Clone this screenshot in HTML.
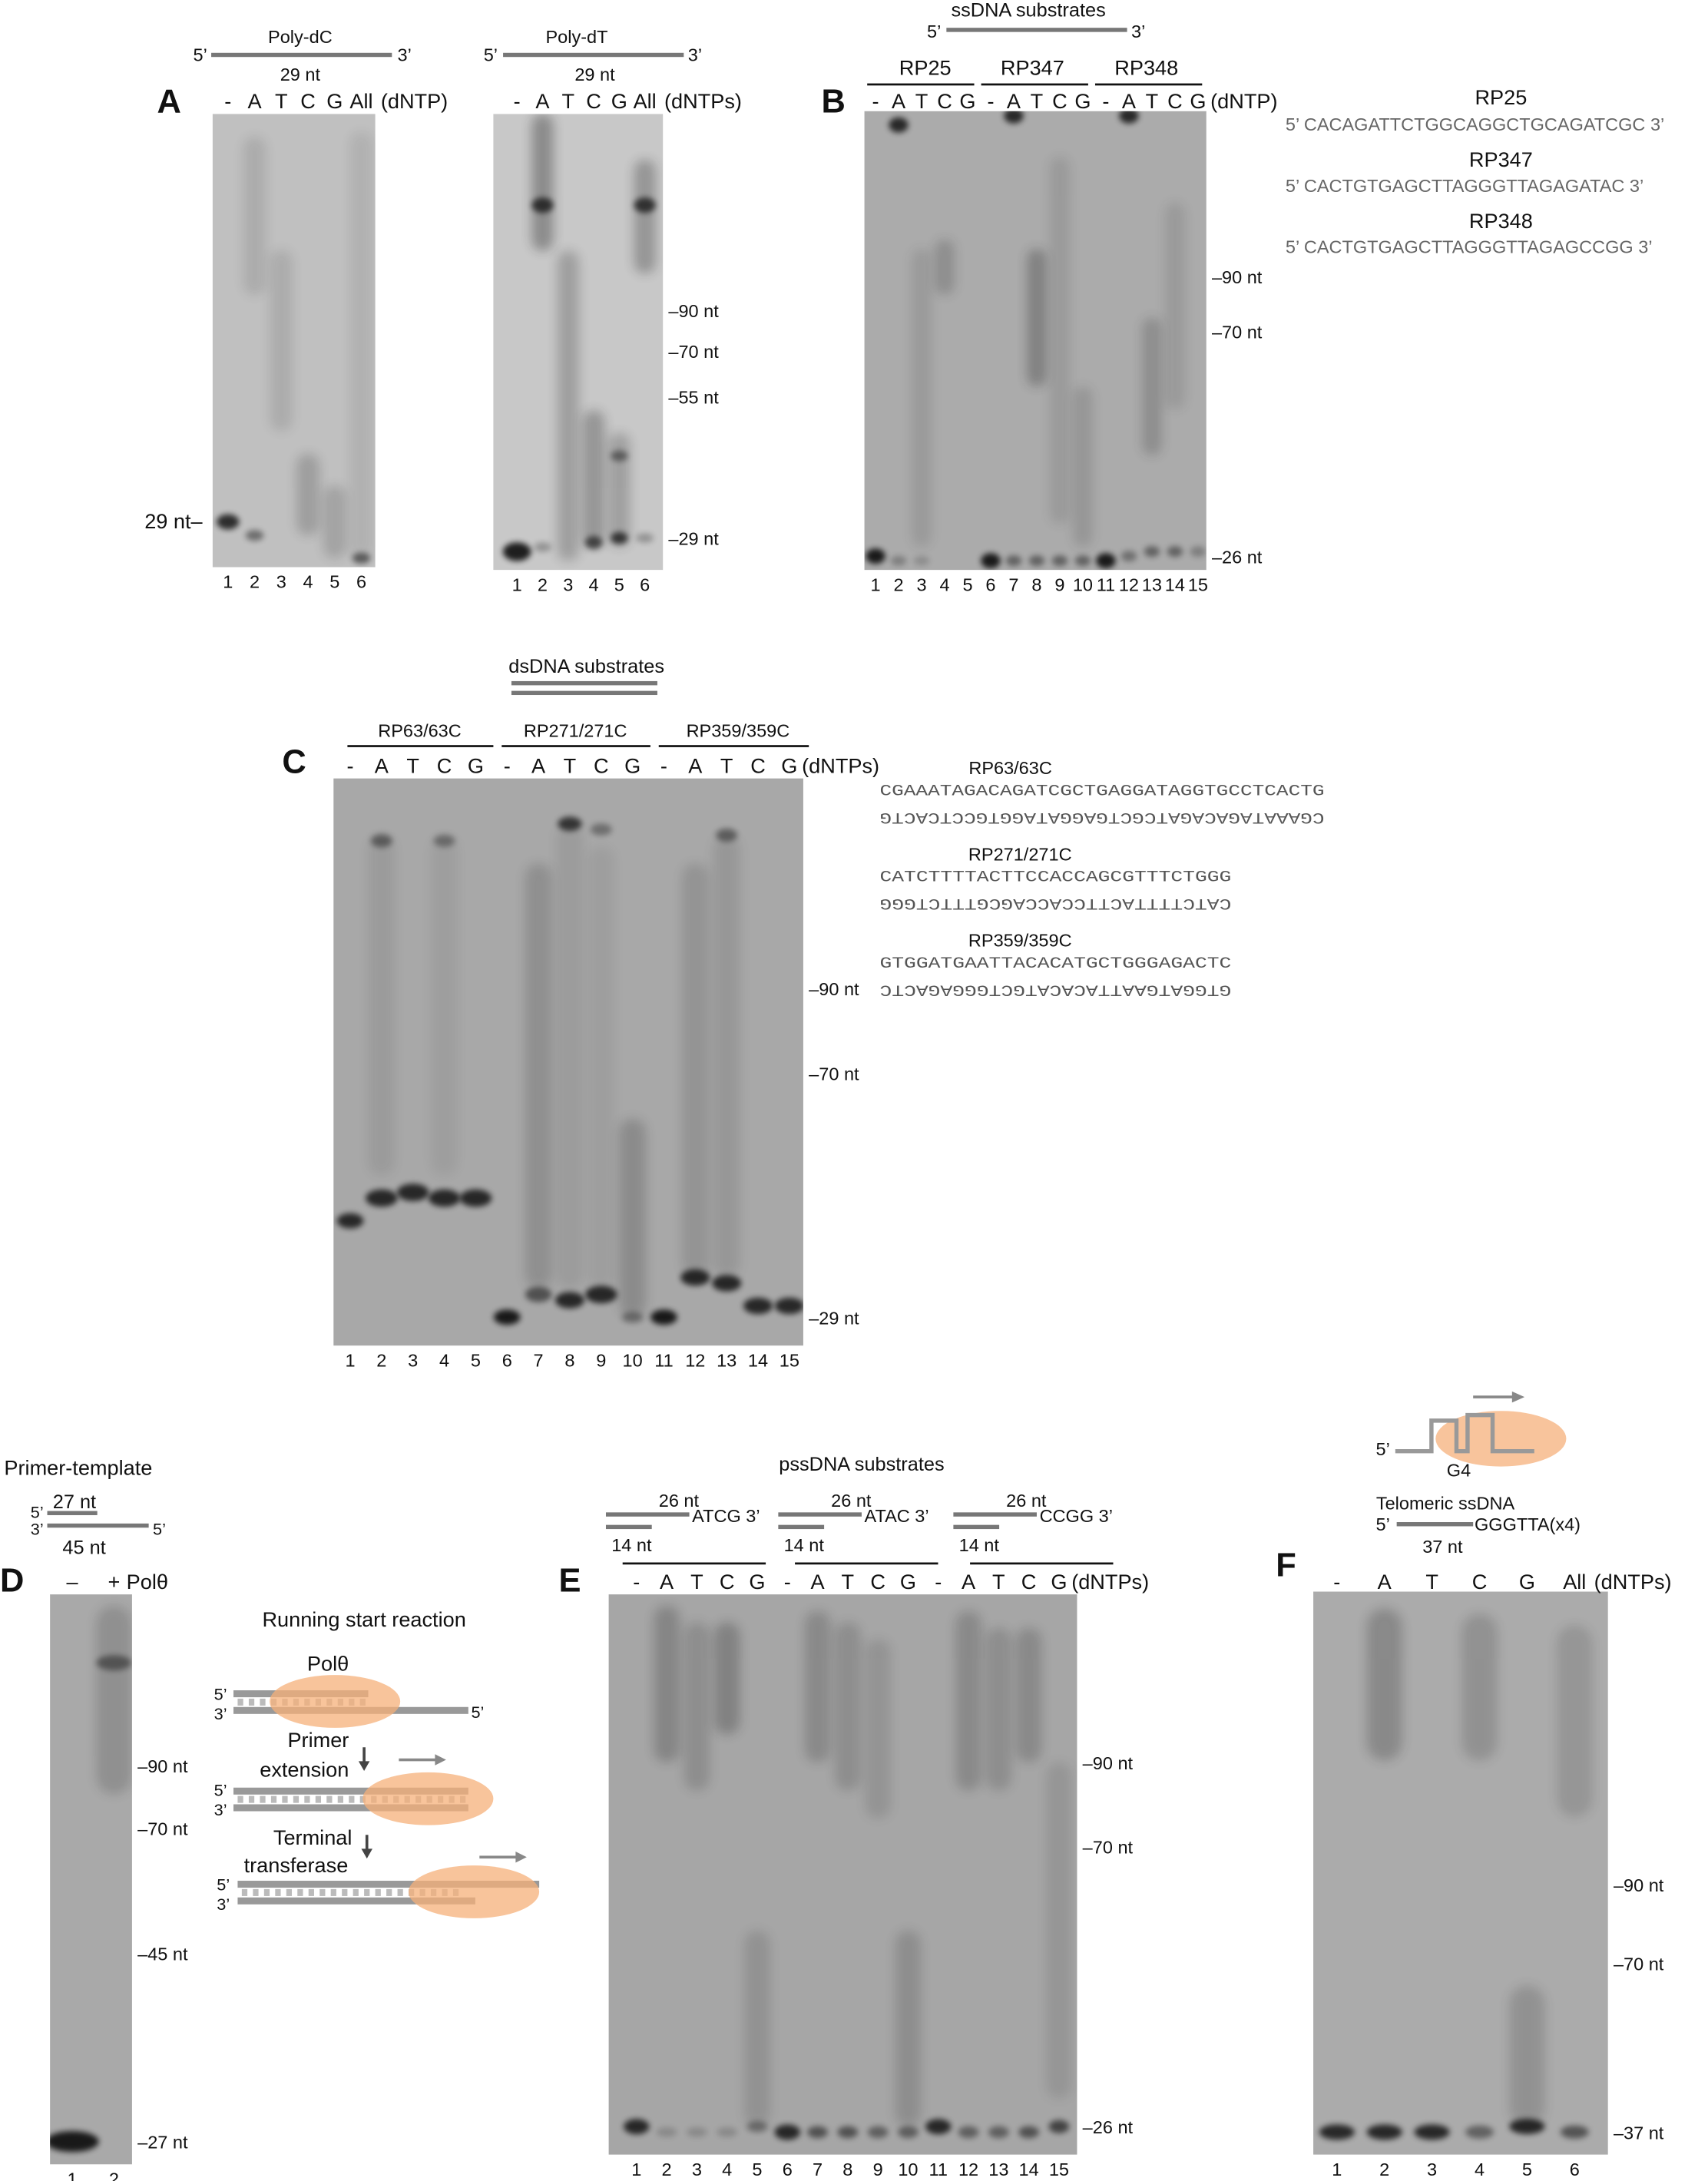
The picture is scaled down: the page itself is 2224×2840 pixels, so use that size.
<!DOCTYPE html>
<html><head><meta charset="utf-8"><style>
html,body{margin:0;padding:0;background:#fff}
svg{display:block}
text{font-family:"Liberation Sans",sans-serif;fill:#111}
.m{font-family:"Liberation Mono",monospace;fill:#555}
.g{fill:#666}
</style></head><body>
<svg id="fig" width="2224" height="2840" viewBox="0 0 1229 1569" preserveAspectRatio="none" xmlns="http://www.w3.org/2000/svg">
<defs>
<filter id="b2" x="-50%" y="-50%" width="200%" height="200%"><feGaussianBlur stdDeviation="2"/></filter>
<filter id="b4" x="-50%" y="-50%" width="200%" height="200%"><feGaussianBlur stdDeviation="4"/></filter>
</defs>
<g id="gels"></g>

<!-- Panel A -->
<text x="113" y="81" font-size="24" font-weight="bold">A</text>
<text x="216" y="31" font-size="13" text-anchor="middle">Poly-dC</text>
<rect x="152" y="38" width="130" height="3" fill="#777"/>
<text x="139" y="44" font-size="13">5’</text>
<text x="286" y="44" font-size="13">3’</text>
<text x="216" y="58" font-size="13" text-anchor="middle">29 nt</text>
<text x="104" y="380" font-size="15">29 nt–</text>
<text x="415" y="31" font-size="13" text-anchor="middle">Poly-dT</text>
<rect x="362" y="38" width="130" height="3" fill="#777"/>
<text x="348" y="44" font-size="13">5’</text>
<text x="495" y="44" font-size="13">3’</text>
<text x="428" y="58" font-size="13" text-anchor="middle">29 nt</text>

<!-- Panel B -->
<text x="591" y="81" font-size="24" font-weight="bold">B</text>
<text x="740" y="12" font-size="14" text-anchor="middle">ssDNA substrates</text>
<text x="667" y="27" font-size="13">5’</text>
<rect x="681" y="20" width="130" height="3" fill="#777"/>
<text x="814" y="27" font-size="13">3’</text>
<text x="647" y="54" font-size="15">RP25</text>
<text x="720" y="54" font-size="15">RP347</text>
<text x="802" y="54" font-size="15">RP348</text>
<rect x="624" y="60" width="77" height="1.5" fill="#111"/>
<rect x="706" y="60" width="77" height="1.5" fill="#111"/>
<rect x="788" y="60" width="77" height="1.5" fill="#111"/>
<text x="1080" y="75" font-size="15" text-anchor="middle">RP25</text>
<text x="925" y="94" font-size="13" class="g">5’ CACAGATTCTGGCAGGCTGCAGATCGC 3’</text>
<text x="1080" y="120" font-size="15" text-anchor="middle">RP347</text>
<text x="925" y="138" font-size="13" class="g">5’ CACTGTGAGCTTAGGGTTAGAGATAC 3’</text>
<text x="1080" y="164" font-size="15" text-anchor="middle">RP348</text>
<text x="925" y="182" font-size="13" class="g">5’ CACTGTGAGCTTAGGGTTAGAGCCGG 3’</text>

<!-- Panel C -->
<text x="203" y="556" font-size="24" font-weight="bold">C</text>
<text x="422" y="484" font-size="14" text-anchor="middle">dsDNA substrates</text>
<rect x="368" y="490" width="105" height="3" fill="#777"/>
<rect x="368" y="497" width="105" height="3" fill="#777"/>
<text x="302" y="530" font-size="13" text-anchor="middle">RP63/63C</text>
<text x="414" y="530" font-size="13" text-anchor="middle">RP271/271C</text>
<text x="531" y="530" font-size="13" text-anchor="middle">RP359/359C</text>
<rect x="250" y="536" width="105" height="1.5" fill="#111"/>
<rect x="361" y="536" width="107" height="1.5" fill="#111"/>
<rect x="474" y="536" width="108" height="1.5" fill="#111"/>
<text x="727" y="557" font-size="13" text-anchor="middle">RP63/63C</text>
<text x="633" y="572" font-size="11" class="m" textLength="320" lengthAdjust="spacingAndGlyphs">CGAAATAGACAGATCGCTGAGGATAGGTGCCTCACTG</text>
<text x="953" y="577" font-size="11" class="m" textLength="320" lengthAdjust="spacingAndGlyphs" transform="rotate(180 953 581)">CGAAATAGACAGATCGCTGAGGATAGGTGCCTCACTG</text>
<text x="734" y="619" font-size="13" text-anchor="middle">RP271/271C</text>
<text x="633" y="634" font-size="11" class="m" textLength="253" lengthAdjust="spacingAndGlyphs">CATCTTTTACTTCCACCAGCGTTTCTGGG</text>
<text x="886" y="639" font-size="11" class="m" textLength="253" lengthAdjust="spacingAndGlyphs" transform="rotate(180 886 643)">CATCTTTTACTTCCACCAGCGTTTCTGGG</text>
<text x="734" y="681" font-size="13" text-anchor="middle">RP359/359C</text>
<text x="633" y="696" font-size="11" class="m" textLength="253" lengthAdjust="spacingAndGlyphs">GTGGATGAATTACACATGCTGGGAGACTC</text>
<text x="886" y="701" font-size="11" class="m" textLength="253" lengthAdjust="spacingAndGlyphs" transform="rotate(180 886 705)">GTGGATGAATTACACATGCTGGGAGACTC</text>

<!-- Panel D -->
<text x="3" y="1061" font-size="15">Primer-template</text>
<text x="38" y="1085" font-size="14">27 nt</text>
<text x="22" y="1092" font-size="12">5’</text>
<rect x="34" y="1087" width="36" height="3" fill="#777"/>
<text x="22" y="1104" font-size="12">3’</text>
<rect x="34" y="1096" width="73" height="3" fill="#777"/>
<text x="110" y="1104" font-size="12">5’</text>
<text x="45" y="1118" font-size="14">45 nt</text>
<text x="0" y="1145" font-size="24" font-weight="bold">D</text>
<text x="262" y="1170" font-size="15" text-anchor="middle">Running start reaction</text>
<g id="diagram"></g>

<!-- Panel E -->
<text x="620" y="1058" font-size="14" text-anchor="middle">pssDNA substrates</text>
<text x="918" y="1134" font-size="24" font-weight="bold">F</text>
<text x="402" y="1145" font-size="24" font-weight="bold">E</text>
<g id="pss"></g>

<!-- Panel F -->
<text x="1040" y="1086" font-size="13" text-anchor="middle">Telomeric ssDNA</text>
<text x="990" y="1101" font-size="13">5’</text>
<rect x="1005" y="1095" width="55" height="3" fill="#777"/>
<text x="1061" y="1101" font-size="13">GGGTTA(x4)</text>
<text x="1038" y="1117" font-size="13" text-anchor="middle">37 nt</text>
<g>
<ellipse cx="1080" cy="1035" rx="47" ry="20" fill="#f6b583" opacity="0.8"/>
<path d="M1004 1044 H1030 V1022 H1048 V1044 H1056 V1018 H1074 V1044 H1104" fill="none" stroke="#999" stroke-width="3"/>
<text x="990" y="1047" font-size="13">5’</text>
<text x="1041" y="1062" font-size="13">G4</text>
<path d="M1060 1005 H1090" stroke="#888" stroke-width="2"/><path d="M1088 1001 L1097 1005 L1088 1009 Z" fill="#888"/>
</g>
<g id="labels"></g>
</svg>
<script>
// ---- Data: lane contents per gel (positions as fraction of gel height, 0=top, 1=bottom) ----
var gelNames = ['gel-a-polydc','gel-a-polydt','gel-b-ssdna','gel-c-dsdna','gel-d-primer','gel-e-pssdna','gel-f-telomeric'];
var gelBoxes = [[153,82,117,326],[355,82,122,328],[622,80,246,330],[240,560,338,408],[36,1147,59,410],[438,1147,337,403],[945,1145,212,405]];
var gelShades = ['#c0c0c0','#c8c8c8','#ababab','#a8a8a8','#a9a9a9','#a6a6a6','#ababab'];
var laneCounts = [6,6,15,15,2,15,6];
var laneFirst = [164,372,630,252,52,458,962];
var laneLast = [260,464,862,568,82,762,1133];
var headerY = [78,78,78,556,1143,1143,1143];
var headerLetters = [
 ['-','A','T','C','G','All'],
 ['-','A','T','C','G','All'],
 ['-','A','T','C','G','-','A','T','C','G','-','A','T','C','G'],
 ['-','A','T','C','G','-','A','T','C','G','-','A','T','C','G'],
 ['–','+'],
 ['-','A','T','C','G','-','A','T','C','G','-','A','T','C','G'],
 ['-','A','T','C','G','All']
];
var headerSuffix = ['(dNTP)','(dNTPs)','(dNTP)','(dNTPs)','Polθ','(dNTPs)','(dNTPs)'];
// bands: [gel, lane(1-based), pos, intensity, size]
var bands = [
 [0,1,0.9,0.9,1],[0,2,0.93,0.5,0.6],[0,6,0.98,0.6,0.6],
 [1,1,0.96,1,1.3],[1,2,0.95,0.3,0.5],[1,4,0.94,0.7,0.8],[1,5,0.93,0.8,0.7],[1,5,0.75,0.5,0.6],[1,6,0.93,0.3,0.5],[1,2,0.2,0.8,1],[1,6,0.2,0.8,1],
 [2,1,0.97,1,1],[2,2,0.03,0.9,1],[2,7,0.01,0.9,1],[2,12,0.01,0.9,1],[2,6,0.98,1,1],[2,11,0.98,1,1],
 [2,7,0.98,0.5,0.6],[2,8,0.98,0.5,0.6],[2,9,0.98,0.5,0.6],[2,10,0.98,0.5,0.6],[2,12,0.97,0.4,0.6],[2,13,0.96,0.5,0.6],[2,14,0.96,0.5,0.6],[2,15,0.96,0.3,0.6],[2,2,0.98,0.3,0.5],[2,3,0.98,0.2,0.5],
 [3,1,0.78,0.9,1],[3,2,0.74,0.9,1.2],[3,3,0.73,0.9,1.2],[3,4,0.74,0.9,1.2],[3,5,0.74,0.9,1.2],[3,2,0.11,0.5,0.8],[3,4,0.11,0.4,0.7],[3,8,0.08,0.8,0.9],[3,9,0.09,0.4,0.7],[3,13,0.1,0.5,0.8],
 [3,6,0.95,1,1],[3,7,0.91,0.6,1],[3,8,0.92,0.9,1.1],[3,9,0.91,0.9,1.2],[3,11,0.95,1,1],[3,12,0.88,0.9,1.1],[3,13,0.89,0.9,1.1],[3,14,0.93,0.9,1.1],[3,15,0.93,0.9,1.1],[3,10,0.95,0.4,0.6],
 [4,1,0.96,1,1.5],[4,2,0.12,0.5,1],
 [5,1,0.95,0.9,1],[5,6,0.96,0.9,1],[5,11,0.95,0.9,1],[5,7,0.96,0.6,0.7],[5,8,0.96,0.6,0.7],[5,9,0.96,0.5,0.7],[5,10,0.96,0.5,0.7],[5,12,0.96,0.5,0.7],[5,13,0.96,0.5,0.7],[5,14,0.96,0.6,0.7],[5,15,0.95,0.7,0.8],[5,2,0.96,0.2,0.5],[5,3,0.96,0.2,0.5],[5,4,0.96,0.2,0.5],[5,5,0.95,0.4,0.6],
 [6,1,0.96,0.9,1],[6,2,0.96,0.9,1],[6,3,0.96,0.9,1],[6,4,0.96,0.5,0.8],[6,5,0.95,0.9,1],[6,6,0.96,0.6,0.8]
];
// smears: [gel, lane, top, bottom, intensity]
var smears = [
 [0,2,0.05,0.4,0.2],[0,3,0.3,0.7,0.2],[0,4,0.75,0.93,0.35],[0,5,0.82,0.98,0.3],[0,6,0.04,0.98,0.15],
 [1,2,0.0,0.3,0.6],[1,6,0.1,0.35,0.5],[1,3,0.3,0.98,0.4],[1,4,0.65,0.95,0.5],[1,5,0.7,0.95,0.4],
 [2,3,0.3,0.95,0.2],[2,4,0.28,0.4,0.35],[2,8,0.3,0.6,0.5],[2,9,0.1,0.9,0.2],[2,13,0.45,0.75,0.35],[2,14,0.2,0.65,0.2],[2,10,0.6,0.95,0.25],
 [3,2,0.1,0.7,0.15],[3,4,0.1,0.7,0.12],[3,7,0.15,0.9,0.3],[3,8,0.08,0.9,0.15],[3,9,0.12,0.9,0.12],[3,10,0.6,0.95,0.35],[3,12,0.15,0.88,0.25],[3,13,0.1,0.88,0.2],
 [4,2,0.02,0.35,0.3],
 [5,2,0.02,0.3,0.4],[5,3,0.05,0.35,0.3],[5,4,0.05,0.25,0.45],[5,5,0.6,0.95,0.25],[5,7,0.03,0.3,0.35],[5,8,0.05,0.35,0.3],[5,9,0.08,0.4,0.22],[5,10,0.6,0.95,0.3],[5,12,0.03,0.35,0.35],[5,13,0.06,0.35,0.3],[5,14,0.06,0.3,0.35],[5,15,0.3,0.9,0.2],
 [6,2,0.03,0.3,0.4],[6,4,0.04,0.3,0.3],[6,6,0.06,0.4,0.25],[6,5,0.7,0.95,0.3]
];
// markers: [gel, label, pos]
var markers = [
 [1,'90 nt',0.43],[1,'70 nt',0.52],[1,'55 nt',0.62],[1,'29 nt',0.93],
 [2,'90 nt',0.36],[2,'70 nt',0.48],[2,'26 nt',0.97],
 [3,'90 nt',0.37],[3,'70 nt',0.52],[3,'29 nt',0.95],
 [4,'90 nt',0.3],[4,'70 nt',0.41],[4,'45 nt',0.63],[4,'27 nt',0.96],
 [5,'90 nt',0.3],[5,'70 nt',0.45],[5,'26 nt',0.95],
 [6,'90 nt',0.52],[6,'70 nt',0.66],[6,'37 nt',0.96]
];
var NS='http://www.w3.org/2000/svg';
var gels=document.getElementById('gels'), labs=document.getElementById('labels');
function mk(t,a,p){var e=document.createElementNS(NS,t);for(var k in a)e.setAttribute(k,a[k]);(p||gels).appendChild(e);return e;}
function laneX(g,l){var n=laneCounts[g];return laneFirst[g]+(laneLast[g]-laneFirst[g])*(l-1)/(n-1);}
function yPos(g,f){var b=gelBoxes[g];return b[1]+f*b[3];}
function laneW(g){return Math.min((laneLast[g]-laneFirst[g])/(laneCounts[g]-1),30)*0.85;}
var grp=[];
gelBoxes.forEach(function(b,i){
 var g=mk('g',{}); grp.push(g);
 
 
 var cp=mk('clipPath',{id:'cp'+i},g); mk('rect',{x:b[0],y:b[1],width:b[2],height:b[3]},cp);
 var r=mk('rect',{x:b[0],y:b[1],width:b[2],height:b[3],fill:gelShades[i]},g);
 
 
 var inner=mk('g',{'clip-path':'url(#cp'+i+')'},g); grp[i]=inner;
 for(var l=1;l<=laneCounts[i];l++){
  var t=mk('text',{x:laneX(i,l),y:b[1]+b[3]+15,'font-size':13,'text-anchor':'middle'},labs);
  t.textContent=l;
  
  
  var h=mk('text',{x:laneX(i,l),y:headerY[i],'font-size':15,'text-anchor':'middle'},labs);
  h.textContent=headerLetters[i][l-1];
  
  
 }
 var s=mk('text',{x:laneX(i,laneCounts[i])+(headerLetters[i][laneCounts[i]-1].length>1?14:9),y:headerY[i],'font-size':15},labs);
 s.textContent=headerSuffix[i];
 
 
});
smears.forEach(function(s){
 var g=s[0],x=laneX(g,s[1]),w=laneW(g),y1=yPos(g,s[2]),y2=yPos(g,s[3]);
 var r=mk('rect',{x:x-w/2,y:y1,width:w,height:y2-y1,rx:w/2,fill:'#222',opacity:s[4]*0.6,filter:'url(#b4)'},grp[g]);
 
 
});
bands.forEach(function(s){
 var g=s[0],x=laneX(g,s[1]),w=laneW(g)*0.5*Math.max(s[4],0.8),y=yPos(g,s[2]);
 var e=mk('ellipse',{cx:x,cy:y,rx:w,ry:4*s[4]+1.5,fill:'#000',opacity:s[3]*0.85,filter:'url(#b2)'},grp[g]);
 
 
});
markers.forEach(function(m){
 var b=gelBoxes[m[0]];
 var t=mk('text',{x:b[0]+b[2]+4,y:yPos(m[0],m[2])+5,'font-size':13},labs);
 t.textContent='–'+m[1];
 
 
});
// pssDNA substrate header diagrams
var pssX=[436,560,686], pssEnd=['ATCG 3’','ATAC 3’','CCGG 3’'];
var pss=document.getElementById('pss');
pssX.forEach(function(x,i){
 mk('rect',{x:x,y:1088,width:60,height:3,fill:'#777'},pss);
 mk('rect',{x:x,y:1097,width:33,height:3,fill:'#777'},pss);
 var t=mk('text',{x:x+62,y:1095,'font-size':13},pss); t.textContent=pssEnd[i];
  
 var t2=mk('text',{x:x+38,y:1084,'font-size':13},pss); t2.textContent='26 nt';
  
 var t3=mk('text',{x:x+4,y:1116,'font-size':13},pss); t3.textContent='14 nt';
  
 mk('rect',{x:x+12,y:1124,width:103,height:1.5,fill:'#111'},pss);
});
// Running start diagram
var d=document.getElementById('diagram');
function duplex(y,x1,x2,topEnd,botEnd,ox,ow){
 mk('rect',{x:x1,y:y,width:topEnd-x1,height:5,fill:'#999'},d);
 mk('rect',{x:x1,y:y+12,width:botEnd-x1,height:5,fill:'#999'},d);
 for(var x=x1+3;x<x2;x+=8) mk('rect',{x:x,y:y+6,width:4,height:5,fill:'#bbb'},d);
 mk('ellipse',{cx:ox,cy:y+8,rx:ow,ry:19,fill:'#f6b07a',opacity:0.75},d);
}
duplex(1216,168,265,265,337,241,47);
duplex(1286,168,335,337,337,308,47);
duplex(1353,171,330,388,342,341,47);
[['5’',154,1223],['3’',154,1237],['5’',339,1236],['5’',154,1292],['3’',154,1306],['5’',156,1360],['3’',156,1374]].forEach(function(a){
 var t=mk('text',{x:a[1],y:a[2],'font-size':12},d); t.textContent=a[0];
  
});
[['Polθ',236,1202],['Primer',229,1257],['extension',219,1278],['Terminal',225,1327],['transferase',213,1347]].forEach(function(a){
 var t=mk('text',{x:a[1],y:a[2],'font-size':15,'text-anchor':'middle'},d); t.textContent=a[0];
  
});
[[262,1257],[264,1320]].forEach(function(p){
 mk('rect',{x:p[0]-1,y:p[1],width:2,height:12,fill:'#444'},d);
 mk('path',{d:'M'+(p[0]-4)+' '+(p[1]+10)+' L'+(p[0]+4)+' '+(p[1]+10)+' L'+p[0]+' '+(p[1]+17)+' Z',fill:'#444'},d);
});
[[287,1266],[345,1336]].forEach(function(p){
 mk('rect',{x:p[0],y:p[1]-1,width:28,height:2,fill:'#888'},d);
 mk('path',{d:'M'+(p[0]+26)+' '+(p[1]-4)+' L'+(p[0]+34)+' '+p[1]+' L'+(p[0]+26)+' '+(p[1]+4)+' Z',fill:'#888'},d);
});
</script>
</body></html>
